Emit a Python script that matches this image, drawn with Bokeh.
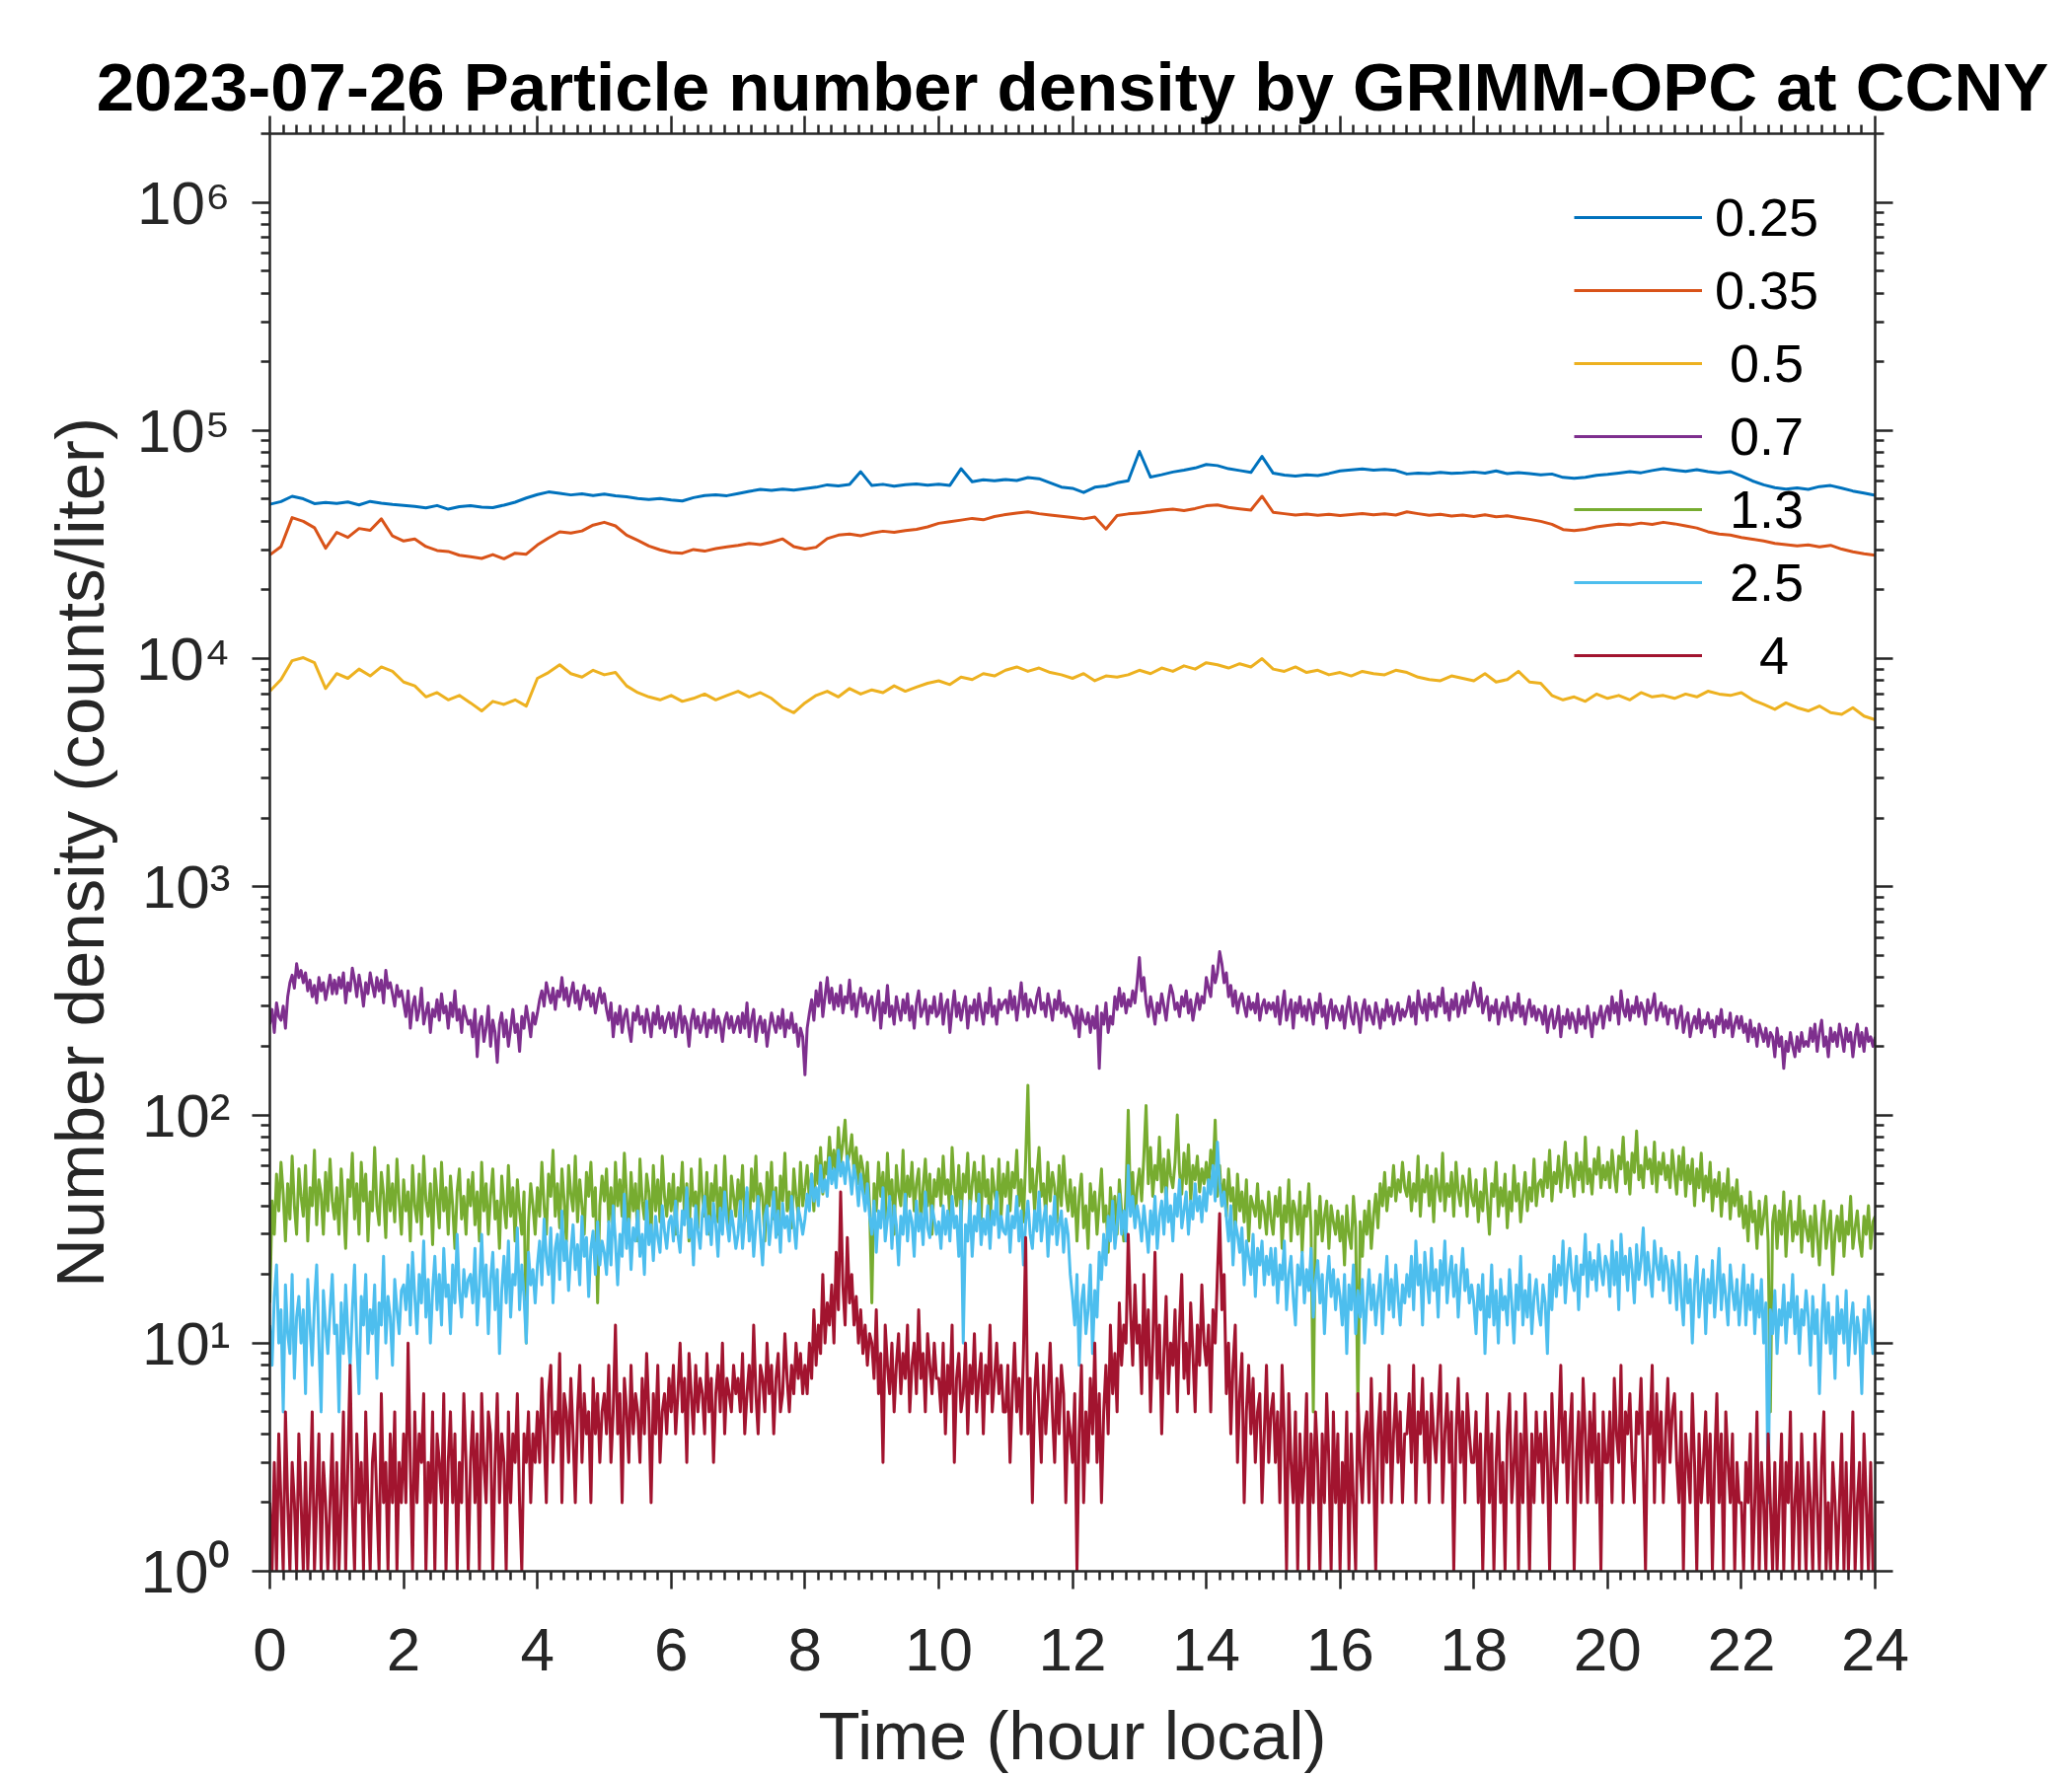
import numpy as np
from bokeh.plotting import figure
from bokeh.models import (Range1d, LinearAxis, LogAxis, FixedTicker, Legend,
                          LegendItem, CustomJSTickFormatter)
from bokeh.embed import file_html
from bokeh.resources import INLINE

# ---------------- data ----------------
title_text = "2023-07-26 Particle number density by GRIMM-OPC at CCNY"
x_label = "Time (hour local)"
y_label = "Number density (counts/liter)"
x_ticks = [0, 2, 4, 6, 8, 10, 12, 14, 16, 18, 20, 22, 24]
y_exponents = [0, 1, 2, 3, 4, 5, 6]
sup_digits = ["\u2070", "\u00b9", "\u00b2", "\u00b3", "\u2074", "\u2075", "\u2076"]
sizes = ["0.25", "0.35", "\u00a00.5", "\u00a00.7", "\u00a01.3", "\u00a02.5", "\u00a0\u00a0\u00a04"]
colors = ["#0072BD", "#D95319", "#EDB120", "#7E2F8E", "#77AC30", "#4DBEEE", "#A2142F"]

# 10-minute samples, thousands of counts/liter
n025_k = [
    47.5, 48.8, 51.5, 50.2, 47.8, 48.4,
    47.9, 48.6, 47.2, 48.9, 48.0, 47.4,
    47.0, 46.5, 45.8, 46.9, 45.2, 46.4,
    46.8, 46.2, 45.9, 47.1, 48.5, 50.6,
    52.4, 53.8, 53.1, 52.2, 52.8, 51.9,
    52.6, 51.7, 51.2, 50.3, 49.8, 50.4,
    49.6, 49.1, 50.8, 51.9, 52.3, 51.8,
    52.9, 54.1, 55.2, 54.6, 55.4, 54.8,
    55.6, 56.4, 57.8, 57.2, 58.0, 66.0,
    57.4, 58.1, 57.0, 57.9, 58.3, 57.6,
    58.2, 57.5, 68.0, 59.6, 60.8, 60.2,
    61.0, 60.4, 62.2, 61.5, 59.0, 56.5,
    55.8, 53.5, 56.4, 57.2, 59.0, 60.2,
    81.0, 62.5, 64.0, 65.8, 67.0, 68.5,
    71.0, 70.2, 68.0, 66.8, 65.5, 77.0,
    65.0, 63.8, 63.2, 64.0, 63.5, 64.8,
    66.5, 67.2, 67.8, 67.0, 67.5, 66.8,
    64.5, 65.0, 64.8, 65.6, 64.9, 65.2,
    65.8, 65.1, 66.5, 64.7, 65.4, 64.8,
    63.9, 64.5, 62.3, 61.8, 62.4, 63.6,
    64.2, 65.1, 66.0, 65.3, 66.8, 68.0,
    67.1, 66.2, 67.4, 66.0, 65.2, 66.1,
    63.2, 60.1, 57.8, 56.2, 55.4, 56.0,
    55.2, 56.8, 57.4, 55.9, 54.3, 53.2,
    52.0]
n035_k = [
    28.5, 31.0, 41.5, 40.0, 37.5, 30.5,
    35.8, 34.0, 37.2, 36.5, 41.0, 34.5,
    32.8, 33.5, 31.0, 29.8, 29.5, 28.4,
    28.0, 27.5, 28.6, 27.4, 29.0, 28.7,
    31.5, 33.8, 36.0, 35.5, 36.3, 38.5,
    39.6, 38.2, 34.8, 33.0, 31.2, 30.0,
    29.2, 29.0, 30.1, 29.6, 30.4, 30.9,
    31.4, 32.0, 31.6, 32.4, 33.5, 31.0,
    30.2, 30.8, 33.6, 34.8, 35.2, 34.6,
    35.5, 36.2, 35.8, 36.4, 36.9, 37.8,
    39.2, 39.8, 40.5, 41.2, 40.6, 42.0,
    42.8, 43.5, 44.0, 43.2, 42.6, 42.1,
    41.6, 41.0, 41.8, 37.0, 42.4, 43.1,
    43.5, 44.0, 44.8, 45.2, 44.6, 45.5,
    46.8, 47.2, 46.0, 45.4, 44.8, 51.5,
    43.8, 43.2, 42.6, 43.0, 42.5, 42.9,
    42.4, 42.8, 43.3, 42.7, 43.1, 42.6,
    44.0, 43.2, 42.5, 42.9, 42.2, 42.6,
    42.0, 42.7, 41.9, 42.3, 41.5, 40.8,
    40.0, 38.8, 36.8, 36.4, 36.9, 37.8,
    38.4, 38.9, 38.6, 39.3, 38.8, 39.6,
    39.0, 38.2, 37.4, 36.0, 35.2, 34.8,
    34.0, 33.4, 32.8, 32.0, 31.6, 31.2,
    31.5, 30.9, 31.4, 30.2, 29.4, 28.8,
    28.4]
n050_k = [
    7.2, 8.1, 9.8, 10.1, 9.6, 7.4,
    8.6, 8.2, 9.0, 8.4, 9.2, 8.8,
    7.9, 7.6, 6.8, 7.1, 6.6, 6.9,
    6.4, 5.9, 6.5, 6.3, 6.6, 6.2,
    8.2, 8.7, 9.4, 8.6, 8.3, 8.9,
    8.5, 8.7, 7.6, 7.1, 6.8, 6.6,
    6.9, 6.5, 6.7, 7.0, 6.6, 6.9,
    7.2, 6.8, 7.1, 6.7, 6.1, 5.8,
    6.4, 6.9, 7.2, 6.8, 7.4, 7.0,
    7.3, 7.1, 7.6, 7.2, 7.5, 7.8,
    8.0, 7.7, 8.3, 8.1, 8.6, 8.4,
    8.9, 9.2, 8.8, 9.1, 8.7, 8.5,
    8.2, 8.6, 8.0, 8.4, 8.3, 8.5,
    8.9, 8.6, 9.1, 8.8, 9.3, 9.0,
    9.6, 9.4, 9.1, 9.5, 9.2, 10.0,
    9.0, 8.8, 9.2, 8.7, 8.9, 8.5,
    8.7, 8.4, 8.8, 8.6, 8.5, 8.9,
    8.7, 8.3, 8.1, 8.0, 8.4, 8.2,
    8.0, 8.6, 7.9, 8.1, 8.8, 7.9,
    7.8, 6.9, 6.6, 6.8, 6.5, 7.0,
    6.7, 6.9, 6.6, 7.1, 6.8, 6.9,
    6.7, 7.0, 6.8, 7.2, 7.0, 6.9,
    7.1, 6.6, 6.3, 6.0, 6.4, 6.1,
    5.9, 6.2, 5.8, 5.7, 6.1, 5.6,
    5.4]

# 2-minute samples, counts/liter (one row per hour)
n070 = [
    250, 290, 230, 310, 270, 260, 300, 240, 330, 380, 410, 360, 460, 400, 430, 380, 420, 350, 390, 330, 370, 310, 400, 350, 380, 320, 360, 410, 340, 390,
    340, 400, 360, 420, 310, 380, 350, 440, 390, 330, 410, 360, 300, 380, 340, 420, 370, 330, 400, 350, 390, 310, 430, 360, 380, 340, 300, 370, 330, 350,
    310, 270, 350, 240, 300, 330, 260, 290, 360, 250, 280, 310, 230, 290, 270, 320, 260, 340, 280, 300, 240, 310, 270, 350, 260, 290, 230, 300, 270, 250,
    260, 220, 290, 180, 250, 270, 210, 240, 300, 200, 260, 230, 170, 250, 280, 220, 260, 200, 240, 290, 230, 250, 190, 270, 240, 300, 260, 220, 280, 250,
    280, 320, 350, 300, 380, 340, 310, 360, 290, 350, 330, 400, 320, 360, 300, 340, 380, 310, 350, 290, 330, 370, 320, 350, 300, 340, 280, 320, 360, 310,
    340, 290, 260, 310, 220, 280, 250, 300, 230, 270, 290, 240, 210, 280, 260, 300, 250, 270, 230, 290, 260, 220, 280, 250, 300, 240, 270, 230, 260, 280,
    240, 280, 220, 260, 300, 230, 270, 250, 200, 260, 290, 240, 270, 230, 250, 280, 220, 260, 240, 290, 230, 270, 250, 210, 260, 280, 240, 270, 230, 250,
    270, 230, 280, 240, 310, 220, 260, 290, 210, 250, 270, 230, 260, 200, 240, 280, 250, 230, 270, 240, 290, 220, 260, 240, 280, 230, 250, 200, 240, 220,
    150, 240, 280, 320, 260, 350, 300, 380, 270, 330, 400, 310, 360, 290, 340, 300, 370, 280, 330, 310, 390, 290, 340, 270, 320, 360, 300, 340, 280, 310,
    330, 260, 300, 350, 240, 310, 280, 370, 270, 300, 250, 330, 290, 260, 320, 280, 340, 260, 300, 240, 310, 350, 270, 290, 320, 250, 300, 280, 330, 270,
    280, 340, 250, 300, 320, 230, 290, 350, 270, 310, 260, 300, 330, 240, 300, 280, 320, 260, 340, 290, 250, 310, 280, 360, 270, 300, 250, 320, 290, 310,
    320, 280, 350, 290, 330, 260, 310, 380, 290, 340, 270, 320, 300, 280, 330, 360, 290, 310, 270, 340, 300, 260, 320, 290, 350, 280, 310, 270, 300, 280,
    270, 240, 300, 220, 290, 260, 250, 280, 230, 270, 240, 300, 160, 280, 250, 310, 230, 270, 250, 330, 290, 360, 300, 340, 280, 320, 300, 350, 310, 380,
    490, 350, 400, 310, 270, 330, 290, 250, 310, 280, 340, 300, 260, 320, 370, 340, 290, 310, 270, 330, 300, 350, 280, 320, 260, 300, 340, 290, 330, 310,
    400, 360, 330, 450, 380, 420, 520, 460, 380, 420, 330, 370, 300, 350, 280, 320, 340, 300, 270, 330, 290, 310, 280, 340, 260, 300, 320, 280, 310, 290,
    310, 270, 330, 250, 300, 350, 260, 290, 320, 240, 310, 280, 330, 270, 300, 260, 320, 290, 250, 310, 280, 340, 270, 300, 240, 290, 320, 260, 300, 280,
    260, 300, 240, 290, 330, 270, 250, 310, 280, 230, 290, 320, 260, 300, 270, 250, 310, 280, 240, 290, 260, 320, 270, 300, 250, 280, 310, 260, 290, 270,
    290, 330, 270, 310, 250, 350, 300, 280, 320, 260, 340, 290, 310, 270, 330, 300, 360, 280, 310, 260, 320, 290, 340, 270, 300, 330, 280, 350, 300, 320,
    380, 340, 300, 360, 280, 310, 330, 260, 300, 280, 320, 250, 290, 310, 270, 330, 290, 260, 310, 280, 340, 270, 300, 250, 290, 320, 270, 300, 260, 290,
    280, 250, 300, 230, 270, 290, 240, 260, 300, 220, 270, 250, 290, 240, 280, 260, 230, 290, 250, 270, 240, 300, 260, 220, 280, 250, 270, 300, 240, 280,
    300, 260, 330, 280, 310, 250, 350, 290, 270, 320, 260, 300, 280, 330, 270, 310, 290, 250, 320, 280, 300, 340, 260, 290, 310, 270, 300, 250, 290, 280,
    290, 240, 270, 300, 230, 260, 280, 220, 250, 270, 240, 290, 230, 260, 250, 280, 240, 260, 220, 270, 250, 290, 230, 260, 240, 280, 220, 250, 270, 240,
    270, 230, 250, 210, 260, 220, 240, 200, 250, 230, 210, 240, 200, 230, 220, 180, 240, 200, 220, 160, 210, 190, 230, 200, 180, 220, 190, 230, 200, 210,
    200, 240, 210, 250, 190, 230, 260, 200, 220, 180, 240, 210, 230, 200, 250, 220, 190, 240, 210, 230, 180, 220, 250, 200, 230, 190, 240, 210, 220, 200,
    220]
n130 = [
    15, 42, 30, 55, 38, 62, 45, 28, 50, 35, 66, 40, 30, 58, 44, 36, 60, 28, 48, 40, 70, 33, 52, 45, 30, 56, 38, 64, 42, 35,
    48, 30, 58, 40, 26, 52, 44, 68, 35, 50, 30, 62, 42, 55, 28, 46, 38, 72, 40, 33, 56, 45, 29, 60, 38, 50, 34, 64, 42, 30,
    52, 38, 46, 28, 60, 40, 34, 55, 30, 66, 42, 36, 50, 27, 58, 44, 32, 62, 38, 48, 30, 54, 40, 26, 46, 58, 35, 44, 30, 52,
    40, 56, 33, 46, 28, 62, 38, 50, 30, 44, 58, 35, 42, 26, 54, 40, 32, 60, 36, 48, 28, 52, 38, 30, 46, 10, 34, 50, 40, 30,
    48, 36, 62, 40, 30, 55, 44, 70, 36, 50, 32, 58, 42, 28, 60, 45, 38, 66, 34, 52, 40, 30, 56, 44, 62, 36, 48, 15, 40, 54,
    42, 58, 34, 48, 30, 62, 40, 52, 36, 68, 44, 30, 56, 38, 50, 28, 64, 42, 35, 55, 46, 30, 60, 38, 52, 34, 66, 44, 36, 50,
    38, 55, 30, 48, 42, 62, 35, 50, 28, 58, 40, 46, 32, 64, 44, 36, 56, 30, 50, 42, 60, 34, 48, 38, 66, 40, 30, 54, 44, 36,
    52, 40, 60, 34, 46, 30, 58, 42, 66, 36, 50, 44, 28, 56, 40, 62, 35, 48, 30, 54, 42, 68, 38, 46, 32, 58, 44, 36, 62, 40,
    48, 60, 42, 55, 38, 66, 50, 72, 45, 62, 55, 80, 58, 70, 52, 88, 62, 75, 95, 60, 68, 82, 55, 72, 50, 66, 58, 45, 62, 40,
    15, 50, 38, 62, 44, 56, 35, 68, 42, 52, 30, 60, 46, 40, 70, 36, 54, 44, 62, 38, 50, 58, 34, 48, 64, 40, 55, 30, 52, 44,
    58, 40, 66, 45, 52, 36, 72, 48, 40, 60, 34, 55, 46, 68, 38, 50, 62, 42, 56, 35, 66, 44, 52, 30, 58, 46, 40, 64, 36, 55,
    44, 62, 38, 56, 48, 70, 40, 52, 34, 64, 135, 46, 58, 38, 54, 72, 44, 50, 36, 62, 42, 56, 48, 34, 60, 40, 66, 46, 38, 52,
    36, 48, 28, 44, 55, 32, 40, 26, 50, 38, 46, 30, 42, 58, 34, 40, 25, 48, 36, 44, 30, 52, 38, 28, 46, 105, 40, 56, 34, 48,
    58, 42, 66, 110, 50, 72, 44, 60, 52, 80, 46, 64, 40, 70, 54, 48, 62, 100, 56, 45, 68, 50, 74, 42, 60, 52, 66, 46, 58, 50,
    62, 48, 70, 56, 95, 44, 60, 40, 52, 36, 58, 42, 48, 30, 55, 38, 46, 34, 52, 28, 44, 40, 36, 50, 32, 42, 38, 30, 46, 35,
    30, 44, 36, 48, 26, 40, 34, 52, 28, 42, 38, 30, 46, 25, 40, 36, 50, 32, 5, 38, 30, 44, 28, 36, 42, 26, 40, 34, 30, 38,
    28, 36, 22, 40, 30, 26, 44, 32, 5, 34, 24, 38, 30, 42, 26, 36, 45, 32, 50, 40, 56, 38, 48, 44, 60, 42, 52, 46, 62, 48,
    44, 56, 38, 50, 42, 66, 36, 52, 46, 60, 40, 54, 34, 58, 48, 42, 68, 38, 50, 44, 56, 36, 62, 46, 40, 54, 48, 36, 58, 44,
    40, 52, 34, 46, 38, 58, 42, 30, 50, 44, 62, 36, 48, 40, 55, 32, 46, 38, 60, 42, 50, 34, 44, 56, 38, 48, 42, 64, 40, 50,
    52, 44, 62, 48, 70, 42, 56, 50, 66, 46, 58, 76, 48, 60, 54, 44, 68, 52, 62, 46, 80, 50, 58, 45, 64, 55, 72, 48, 60, 52,
    62, 48, 70, 55, 46, 66, 58, 80, 50, 62, 45, 68, 56, 85, 52, 60, 48, 72, 58, 64, 50, 76, 46, 62, 55, 68, 52, 60, 48, 70,
    56, 45, 66, 52, 72, 44, 60, 50, 64, 40, 58, 48, 68, 42, 54, 46, 62, 38, 52, 44, 56, 36, 50, 42, 58, 35, 48, 40, 52, 36,
    44, 32, 40, 28, 46, 34, 38, 26, 42, 30, 36, 44, 28, 5, 34, 40, 26, 38, 30, 46, 24, 36, 42, 28, 34, 30, 44, 25, 38, 32,
    28, 36, 24, 40, 30, 22, 34, 42, 26, 32, 38, 20, 30, 36, 28, 40, 24, 34, 30, 44, 26, 32, 38, 28, 24, 36, 30, 40, 26, 34,
    36]
n250 = [
    12, 8, 16, 22, 10, 14, 5, 18, 11, 9, 20, 7, 13, 16, 10, 14, 6, 19, 12, 8, 15, 22, 10, 5, 17, 12, 9, 14, 20, 11,
    12, 5, 15, 9, 18, 11, 8, 14, 22, 10, 6, 16, 12, 20, 9, 14, 11, 18, 7, 15, 12, 24, 10, 16, 13, 8, 19, 14, 11, 17,
    18, 14, 22, 12, 25, 16, 11, 20, 15, 28, 13, 19, 10, 17, 24, 14, 20, 12, 26, 16, 18, 11, 22, 15, 30, 17, 13, 21, 16, 19,
    20, 15, 26, 12, 18, 30, 16, 22, 11, 19, 25, 14, 21, 9, 17, 24, 15, 28, 13, 20, 18, 32, 14, 22, 16, 10, 25, 18, 21, 15,
    22, 28, 18, 35, 24, 20, 32, 15, 26, 30, 19, 38, 23, 28, 17, 25, 33, 21, 27, 18, 36, 24, 29, 16, 26, 31, 20, 34, 22, 28,
    25, 20, 34, 22, 40, 28, 18, 30, 24, 45, 26, 35, 21, 32, 28, 38, 24, 30, 20, 42, 27, 33, 23, 36, 29, 25, 40, 31, 26, 34,
    36, 28, 42, 30, 25, 38, 33, 48, 29, 35, 22, 40, 31, 26, 37, 44, 30, 36, 27, 41, 33, 24, 39, 30, 46, 34, 28, 38, 32, 26,
    30, 42, 26, 35, 48, 28, 38, 24, 33, 44, 30, 22, 36, 40, 27, 34, 46, 29, 38, 25, 41, 32, 36, 28, 44, 33, 26, 39, 35, 30,
    35, 45, 38, 55, 42, 48, 40, 60, 46, 52, 44, 65, 50, 58, 48, 70, 54, 62, 50, 66, 56, 45, 60, 52, 40, 55, 46, 38, 50, 36,
    30, 42, 25, 38, 32, 48, 28, 35, 44, 26, 40, 33, 22, 36, 30, 45, 28, 38, 34, 24, 42, 31, 37, 27, 46, 32, 29, 40, 35, 30,
    34, 26, 40, 30, 38, 28, 44, 32, 36, 24, 42, 10, 33, 28, 42, 24, 36, 31, 45, 27, 35, 30, 40, 26, 38, 33, 46, 29, 36, 31,
    30, 40, 25, 36, 32, 44, 28, 38, 22, 34, 42, 30, 26, 38, 31, 46, 28, 35, 40, 24, 36, 30, 44, 27, 33, 38, 25, 35, 30, 20,
    16, 12, 20, 8, 15, 18, 11, 14, 22, 9, 17, 13, 25, 19, 30, 22, 36, 28, 42, 26, 33, 45, 30, 38, 28, 60, 36, 44, 32, 40,
    35, 28, 40, 32, 25, 38, 30, 44, 26, 36, 42, 30, 48, 34, 40, 28, 45, 36, 52, 32, 38, 46, 30, 42, 35, 50, 38, 44, 34, 48,
    38, 52, 45, 60, 42, 76, 50, 40, 46, 36, 28, 40, 22, 34, 30, 25, 32, 18, 28, 24, 20, 30, 16, 26, 22, 28, 18, 24, 20, 26,
    18, 26, 15, 22, 19, 28, 14, 20, 24, 16, 12, 22, 18, 25, 15, 21, 17, 26, 13, 19, 23, 15, 20, 11, 18, 24, 16, 21, 14, 19,
    16, 12, 20, 9, 18, 14, 22, 11, 17, 13, 19, 10, 15, 21, 14, 18, 12, 16, 20, 11, 17, 24, 14, 19, 13, 22, 16, 12, 18, 15,
    20, 16, 24, 14, 28, 18, 22, 12, 25, 19, 15, 26, 17, 21, 13, 23, 18, 28, 15, 20, 24, 16, 22, 13, 19, 26, 17, 21, 15, 18,
    15, 11, 18, 14, 20, 9, 16, 13, 22, 12, 17, 10, 19, 14, 16, 12, 21, 15, 10, 18, 14, 24, 12, 17, 13, 20, 11, 16, 19, 14,
    12, 18, 15, 9, 20, 14, 24, 16, 22, 18, 28, 15, 21, 26, 19, 17, 24, 14, 22, 20, 30, 16, 25, 19, 23, 17, 27, 21, 18, 24,
    22, 16, 28, 18, 25, 14, 30, 20, 24, 17, 26, 21, 15, 27, 19, 23, 32, 18, 25, 20, 16, 28, 22, 19, 26, 17, 24, 21, 15, 23,
    20, 14, 25, 16, 12, 22, 15, 19, 10, 18, 24, 13, 17, 21, 11, 19, 15, 23, 13, 18, 26, 14, 20, 16, 12, 22, 17, 14, 19, 12,
    16, 22, 12, 18, 14, 20, 11, 17, 13, 19, 10, 15, 2, 14, 11, 17, 9, 14, 12, 18, 10, 15, 13, 20, 11, 16, 9, 14, 12, 17,
    13, 8, 16, 11, 14, 6, 12, 18, 10, 15, 9, 13, 7, 16, 11, 14, 10, 17, 8, 12, 15, 9, 13, 11, 6, 14, 10, 16, 12, 9,
    14]
n400 = [
    2, 1, 3, 1, 4, 2, 1, 5, 2, 1, 3, 2, 1, 4, 2, 1, 3, 1, 2, 5, 1, 2, 4, 1, 3, 2, 1, 2, 4, 1,
    3, 1, 2, 5, 1, 3, 8, 2, 1, 4, 2, 3, 1, 5, 2, 1, 3, 4, 2, 1, 6, 2, 3, 1, 4, 2, 5, 1, 3, 2,
    4, 2, 10, 3, 1, 5, 2, 4, 3, 6, 1, 3, 2, 5, 1, 4, 3, 2, 6, 1, 3, 5, 2, 4, 1, 3, 2, 6, 3, 1,
    3, 5, 2, 4, 1, 6, 3, 2, 5, 4, 1, 3, 6, 2, 4, 3, 1, 5, 2, 4, 3, 6, 2, 1, 4, 3, 5, 2, 4, 3,
    5, 3, 7, 4, 2, 6, 8, 3, 5, 4, 9, 2, 6, 5, 3, 7, 4, 2, 5, 8, 3, 6, 4, 5, 2, 7, 4, 6, 3, 5,
    6, 4, 8, 3, 5, 12, 4, 6, 2, 7, 5, 3, 8, 4, 6, 5, 3, 7, 4, 9, 5, 2, 6, 4, 8, 3, 5, 6, 4, 7,
    5, 8, 4, 6, 10, 5, 7, 3, 9, 6, 4, 8, 5, 7, 6, 4, 9, 5, 7, 3, 6, 8, 5, 10, 4, 7, 6, 5, 8, 6,
    7, 5, 9, 4, 6, 8, 5, 12, 6, 4, 8, 7, 5, 10, 6, 8, 4, 7, 9, 5, 6, 11, 7, 5, 8, 6, 10, 7, 9, 6,
    8, 6, 10, 7, 14, 8, 12, 9, 20, 10, 15, 12, 18, 10, 25, 14, 46, 18, 12, 29, 15, 20, 12, 16, 10, 14, 9, 12, 8, 11,
    10, 7, 14, 6, 9, 3, 12, 8, 6, 10, 5, 8, 11, 6, 9, 7, 12, 5, 8, 10, 6, 14, 7, 9, 5, 11, 8, 6, 10, 7,
    7, 5, 10, 4, 8, 6, 12, 3, 7, 9, 5, 6, 10, 4, 8, 6, 11, 5, 7, 9, 4, 8, 6, 12, 5, 7, 10, 6, 8, 5,
    5, 8, 3, 6, 10, 5, 7, 4, 9, 29, 4, 7, 2, 6, 9, 5, 3, 8, 4, 6, 10, 5, 3, 7, 4, 8, 6, 2, 5, 4,
    3, 6, 1, 4, 8, 2, 5, 3, 7, 4, 10, 3, 6, 2, 5, 8, 4, 12, 6, 9, 5, 15, 8, 12, 10, 30, 14, 8, 18, 10,
    12, 6, 20, 8, 14, 5, 10, 25, 7, 12, 4, 9, 16, 6, 10, 8, 14, 5, 12, 20, 7, 10, 6, 15, 9, 5, 12, 8, 18, 10,
    8, 12, 5, 14, 10, 20, 37, 14, 20, 6, 10, 4, 8, 12, 3, 6, 9, 2, 5, 8, 4, 7, 3, 5, 6, 2, 4, 8, 3, 5,
    6, 3, 5, 2, 8, 4, 1, 6, 3, 2, 5, 1, 4, 2, 3, 6, 1, 4, 2, 5, 3, 1, 4, 2, 6, 3, 1, 5, 2, 4,
    1, 3, 2, 5, 1, 4, 2, 1, 6, 3, 2, 4, 5, 2, 7, 3, 1, 4, 6, 2, 5, 3, 8, 2, 4, 6, 3, 5, 2, 4,
    4, 6, 3, 8, 2, 5, 4, 7, 3, 5, 2, 6, 4, 3, 5, 8, 2, 4, 6, 3, 5, 1, 4, 7, 3, 5, 2, 6, 4, 3,
    3, 5, 2, 4, 1, 3, 6, 2, 4, 1, 3, 5, 2, 3, 1, 4, 6, 2, 3, 5, 1, 4, 2, 6, 3, 1, 4, 2, 5, 3,
    4, 2, 5, 3, 1, 6, 3, 2, 4, 8, 3, 5, 2, 4, 6, 1, 3, 5, 2, 7, 4, 2, 5, 3, 6, 2, 4, 1, 5, 3,
    3, 5, 2, 7, 4, 3, 8, 2, 5, 4, 6, 3, 2, 5, 4, 7, 3, 1, 5, 4, 8, 2, 6, 3, 5, 2, 4, 7, 3, 5,
    6, 3, 2, 5, 1, 4, 3, 2, 6, 3, 1, 4, 2, 3, 5, 2, 4, 1, 3, 6, 2, 4, 1, 5, 3, 2, 4, 1, 3, 2,
    2, 1, 3, 2, 4, 1, 2, 5, 1, 3, 2, 1, 4, 2, 1, 3, 1, 2, 4, 1, 3, 2, 5, 1, 2, 3, 1, 4, 2, 1,
    3, 2, 1, 4, 2, 1, 3, 5, 1, 2, 1, 3, 2, 1, 2, 4, 1, 3, 1, 2, 5, 1, 2, 3, 1, 4, 2, 1, 3, 1,
    1]

# ---------------- figure ----------------
FONT = "Liberation Sans"
AX = "#262626"
x0, x1 = 0, 24
y0, y1 = 1, 2e6

p = figure(width=2100, height=1800, output_backend="svg", toolbar_location=None,
           y_axis_type="log", x_range=Range1d(x0, x1), y_range=Range1d(y0, y1),
           min_border_left=273, min_border_right=200, min_border_top=135,
           min_border_bottom=206)
p.outline_line_color = None
p.xgrid.visible = False
p.ygrid.visible = False
p.background_fill_color = "white"
p.border_fill_color = "white"

p.title.text = title_text
p.title.align = "center"
p.title.text_font = FONT
p.title.text_font_size = "69px"
p.title.text_font_style = "bold"
p.title.text_color = "black"
p.title.standoff = -18

x_minor = [t / 5 for t in range(0, 121) if t % 10 != 0]
y_major = [10 ** e for e in y_exponents]
y_minor = [m * 10 ** e for e in y_exponents for m in range(2, 10)]
blank = CustomJSTickFormatter(code="return ''")


def style_axis(ax):
    ax.axis_line_color = AX
    ax.axis_line_width = 2.5
    ax.major_tick_line_color = AX
    ax.major_tick_line_width = 2.5
    ax.minor_tick_line_color = AX
    ax.minor_tick_line_width = 2.5
    ax.major_tick_in = 0
    ax.major_tick_out = 18
    ax.minor_tick_in = 0
    ax.minor_tick_out = 9
    ax.major_label_text_font = FONT
    ax.major_label_text_color = AX
    ax.axis_label_text_font = FONT
    ax.axis_label_text_color = AX
    ax.axis_label_text_font_style = "normal"


xt = FixedTicker(ticks=x_ticks, minor_ticks=x_minor)
yt = FixedTicker(ticks=y_major, minor_ticks=y_minor)

xb = p.xaxis[0]
xb.ticker = xt
style_axis(xb)
xb.major_label_text_font_size = "62px"
xb.major_label_standoff = 40
xb.axis_label = x_label
xb.axis_label_text_font_size = "69px"
xb.axis_label_standoff = 25

yl = p.yaxis[0]
yl.ticker = yt
style_axis(yl)
yl.major_label_text_font_size = "62px"
yl.major_label_standoff = 22
yl.major_label_overrides = {10 ** e: "10" + s for e, s in zip(y_exponents, sup_digits)}
yl.axis_label = y_label
yl.axis_label_text_font_size = "69px"
yl.axis_label_standoff = 15

xtop = LinearAxis(ticker=xt, formatter=blank)
style_axis(xtop)
xtop.major_label_standoff = 0
xtop.major_label_text_font_size = "0px"
p.add_layout(xtop, "above")

yright = LogAxis(ticker=yt, formatter=blank)
style_axis(yright)
yright.major_label_standoff = 0
yright.major_label_text_font_size = "0px"
p.add_layout(yright, "right")

# ---------------- series ----------------
series = [
    [v * 1000 for v in n025_k],
    [v * 1000 for v in n035_k],
    [v * 1000 for v in n050_k],
    n070, n130, n250, n400,
]
items = []
for name, vals, col in zip(sizes, series, colors):
    t = np.linspace(x0, x1, len(vals))
    r = p.line(t, vals, line_color=col, line_width=3.0, line_join="round")
    items.append(LegendItem(label=name, renderers=[r]))

legend = Legend(items=items, location=(1322, 897), padding=0, margin=0,
                spacing=12, glyph_width=130, glyph_height=62, label_height=62,
                label_standoff=13, label_text_font=FONT, label_text_font_size="54px",
                label_text_color="black", background_fill_alpha=0,
                border_line_alpha=0)
p.add_layout(legend)

open("out.html", "w").write(file_html(p, INLINE))
